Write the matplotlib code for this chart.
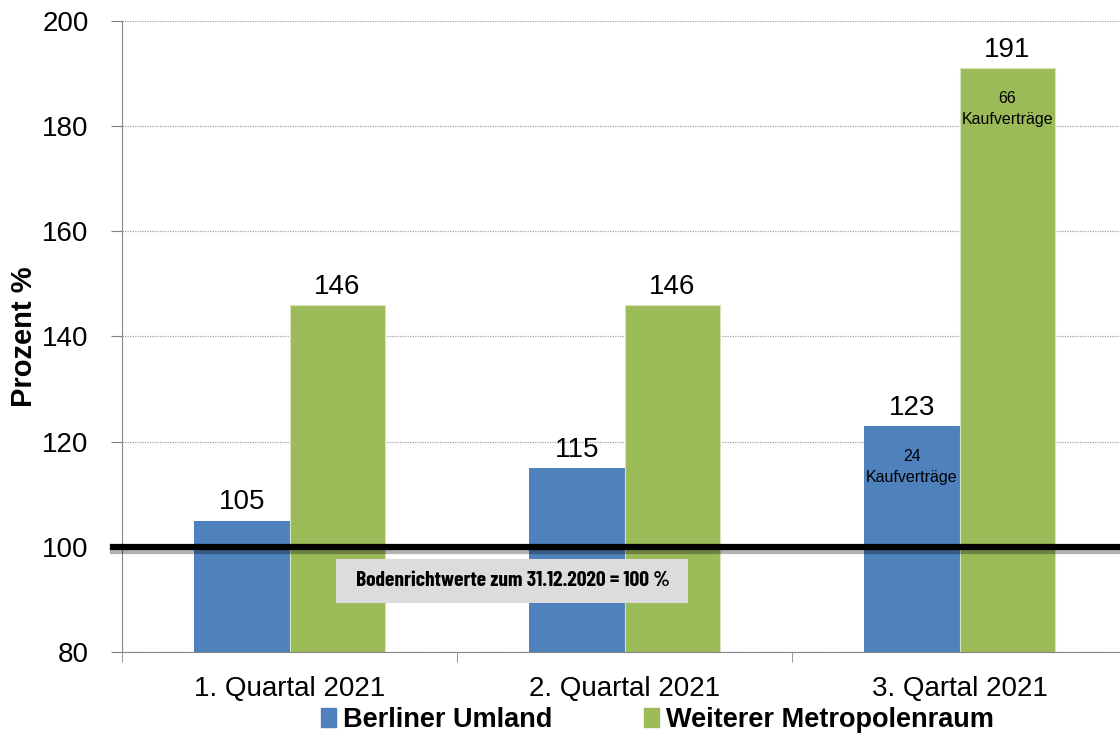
import numpy as np
import matplotlib.pyplot as plt
import matplotlib.patheffects as pe
from matplotlib.patches import Rectangle

categories = ['1. Quartal 2021', '2. Quartal 2021', '3. Qartal 2021']
umland = [105, 115, 123]
metropol = [146, 146, 191]
inner_umland = ['', '', '24\nKaufverträge']
inner_metropol = ['', '', '66\nKaufverträge']

blue = '#4f81bd'
green = '#9bbb59'

plt.rcParams['font.family'] = ['Liberation Sans', 'DejaVu Sans']

fig = plt.figure(figsize=(11.2, 7.4), dpi=100)
ax = fig.add_axes([122 / 1120, 1 - 652 / 740, 1005 / 1120, 631 / 740])

x = np.arange(len(categories))
w = 0.284
ax.bar(x - w / 2, np.array(umland) - 80, w, bottom=80, color=blue, zorder=2)
ax.bar(x + w / 2, np.array(metropol) - 80, w, bottom=80, color=green,
       edgecolor='#d6e3bc', linewidth=0.8, zorder=2)

for xs, vals, inner in [(x - w / 2, umland, inner_umland), (x + w / 2, metropol, inner_metropol)]:
    for xi, v, t in zip(xs, vals, inner):
        ax.text(xi, v + 1.0, str(v), ha='center', va='bottom', fontsize=20, zorder=4)
        if t:
            ax.text(xi, v - 4.3, t, ha='center', va='top', fontsize=11.5, linespacing=1.5, zorder=4)

ax.set_xlim(-0.5, 2.5)
ax.set_ylim(80, 200)
ax.set_yticks(np.arange(80, 201, 20))
ax.tick_params(axis='y', labelsize=20, colors='#808080', labelcolor='black', length=8, pad=16)
ax.set_xticks(x)
ax.set_xticks([-0.5, 0.5, 1.5, 2.5], minor=True)
ax.set_xticklabels(categories, fontsize=20)
ax.tick_params(axis='x', length=0, pad=17)
ax.tick_params(axis='x', which='minor', length=7, colors='#808080')
ax.set_ylabel('Prozent %', fontsize=21, fontweight='bold', labelpad=3)

for s in ['top', 'right']:
    ax.spines[s].set_visible(False)
ax.spines['left'].set_color('#868686')
ax.spines['bottom'].set_color('#868686')
ax.yaxis.grid(True, linestyle=(0, (1, 1)), color='#a0a0a0', linewidth=0.9, zorder=0)
ax.set_axisbelow(True)

# Bezugslinie 100 %
ax.plot([-0.528, 2.5], [100, 100], color='black', linewidth=4.5, clip_on=False, zorder=5,
        path_effects=[pe.SimpleLineShadow(offset=(0, -3), alpha=0.3, shadow_color='black'),
                      pe.Normal()])

ax.add_patch(Rectangle((0.139, 89.4), 1.051, 8.3, facecolor='#dcdcdc', edgecolor='none', zorder=4))
ax.text(0.2, 93.6, 'Bodenrichtwerte zum 31.12.2020 = 100 %', fontsize=15.5, fontweight='bold',
        family=['Barlow Condensed', 'Liberation Sans'], va='center', ha='left', zorder=5)

fig.legend([Rectangle((0, 0), 1, 1, color=blue), Rectangle((0, 0), 1, 1, color=green)],
           ['Berliner Umland', 'Weiterer Metropolenraum'], loc='center',
           bbox_to_anchor=(0.587, 1 - 720 / 740), ncol=2, frameon=False,
           prop={'size': 19.5, 'weight': 'bold'}, handlelength=0.55, handleheight=0.75,
           handletextpad=0.25, columnspacing=3.4)

fig.savefig('out.png', dpi=100)
